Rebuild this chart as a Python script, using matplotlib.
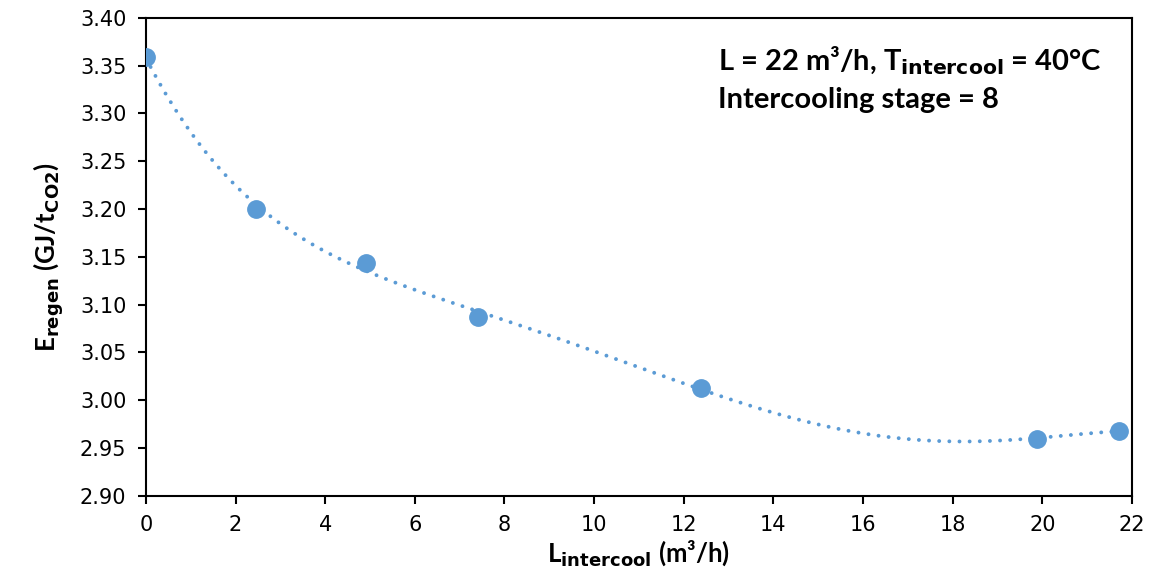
import numpy as np
import matplotlib.pyplot as plt

# donnees
l_intercool = [0.0, 2.45, 4.92, 7.40, 12.38, 19.88, 21.72]
e_regen = [3.359, 3.200, 3.144, 3.087, 3.013, 2.960, 2.968]
x_ticks = [0, 2, 4, 6, 8, 10, 12, 14, 16, 18, 20, 22]
y_ticks = [2.90, 2.95, 3.00, 3.05, 3.10, 3.15, 3.20, 3.25, 3.30, 3.35, 3.40]

blue = "#5B9BD5"
label_font = "Lato"

fig = plt.figure(figsize=(11.67, 5.74), dpi=100)
ax = fig.add_axes([0.125, 0.136, 0.845, 0.833])

# courbe de tendance polynomiale (comme Excel)
coef = np.polyfit(l_intercool, e_regen, 5)
xs = np.linspace(0, max(l_intercool), 300)
ax.plot(xs, np.polyval(coef, xs), color=blue, lw=2.8, ls=(0, (0.01, 2.6)),
        dash_capstyle="round")
ax.plot(l_intercool, e_regen, "o", color=blue, ms=12.5, zorder=3)

ax.set_xlim(0, 22)
ax.set_ylim(2.90, 3.40)
ax.set_xticks(x_ticks)
ax.set_yticks(y_ticks)
ax.set_yticklabels([f"{v:.2f}" for v in y_ticks])
ax.tick_params(direction="out", length=6, width=1.5, labelsize=15, pad=8)
for s in ax.spines.values():
    s.set_linewidth(1.5)

ax.set_xlabel(r"L$_{\mathbf{intercool}}$ (m³/h)", fontsize=18.5, fontweight="bold",
              family=label_font, labelpad=2)
ax.set_ylabel(r"E$_{\mathbf{regen}}$ (GJ/t$_{\mathbf{CO2}}$)", fontsize=18.5,
              fontweight="bold", family=label_font, labelpad=10)

ax.text(0.58, 0.945, r"L = 22 m³/h, T$_{\mathbf{intercool}}$ = 40°C",
        transform=ax.transAxes, fontsize=21, fontweight="bold", family=label_font,
        va="top")
ax.text(0.58, 0.855, "Intercooling stage = 8", transform=ax.transAxes,
        fontsize=21, fontweight="bold", family=label_font, va="top")

fig.savefig("out.png", dpi=100)
